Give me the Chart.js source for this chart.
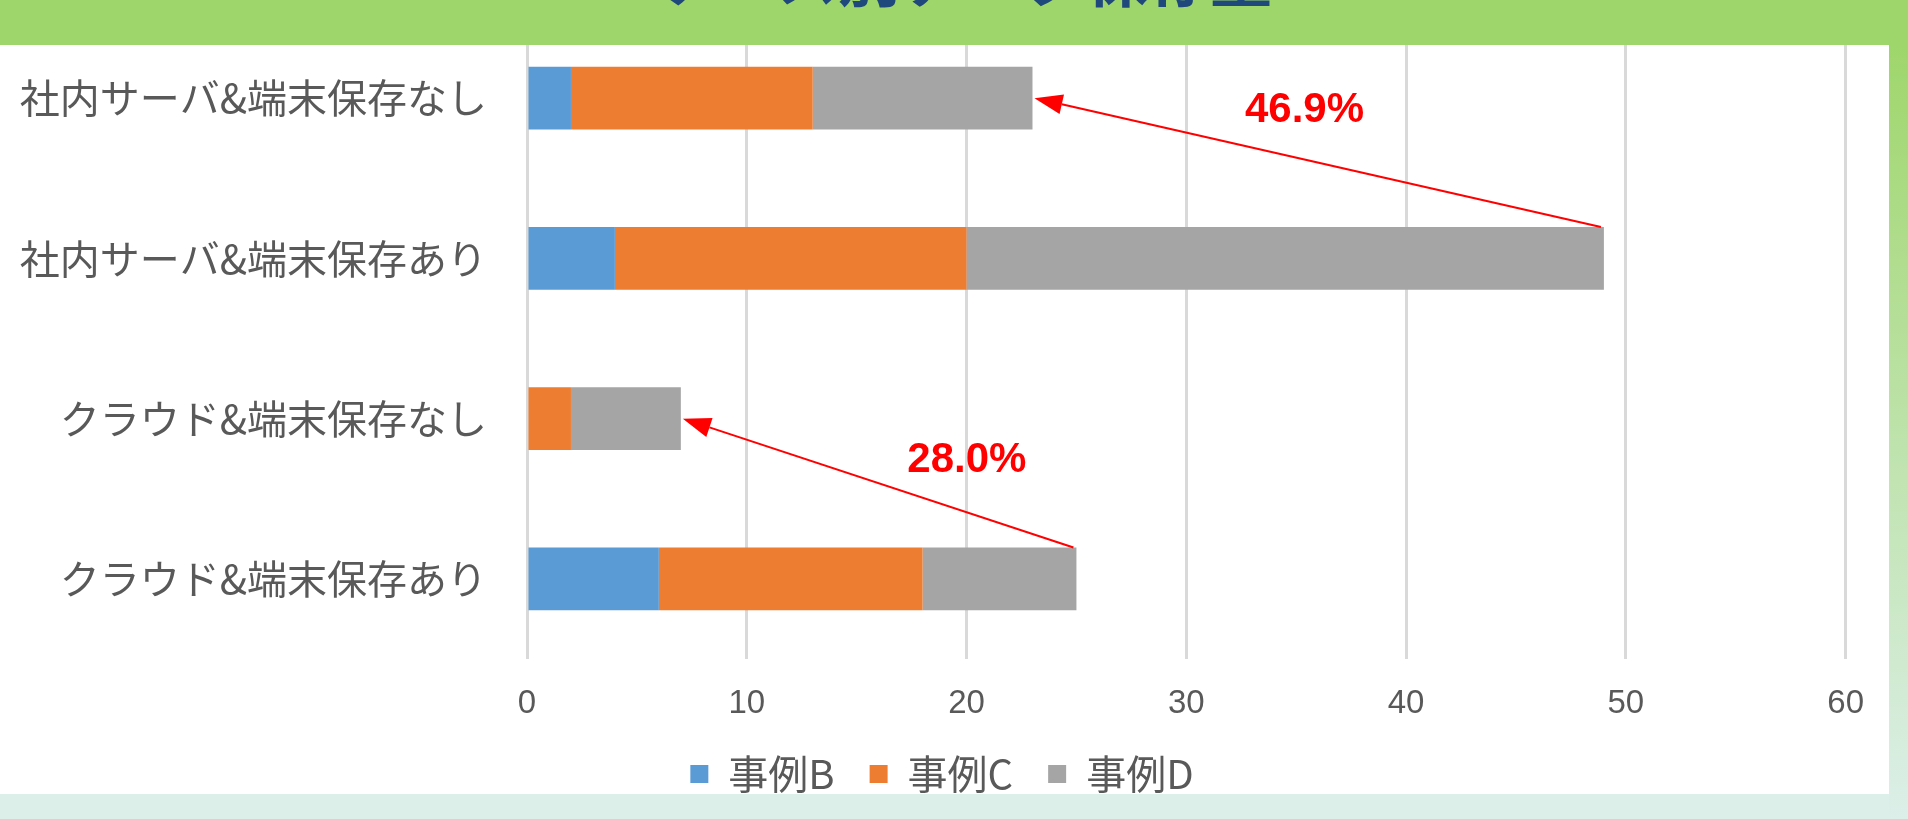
<!DOCTYPE html>
<html lang="ja">
<head>
<meta charset="utf-8">
<script src="https://cdn.jsdelivr.net/npm/chart.js@4"></script>
<style>
html, body { margin: 0; padding: 0; }
body { width: 1908px; height: 819px; position: relative; overflow: hidden; background: #dcefe9; }
#panel { position: absolute; left: 0; top: 0; width: 1889px; height: 819px; background: #fff; }
#header { position: absolute; left: 0; top: 0; width: 1908px; height: 45px; background: #9fd66b; overflow: hidden; z-index: 2; }
#title { position: absolute; left: 655px; top: -56px; font: bold 62px "Noto Sans CJK JP"; line-height: 62px; color: #1f497d; white-space: nowrap; }
#side { position: absolute; left: 1889px; top: 45px; width: 19px; height: 774px; background: linear-gradient(#9fd66b, #dcefe9); z-index: 2; }
#foot { position: absolute; left: 0; top: 794px; width: 1889px; height: 25px; background: #dcefe9; z-index: 2; }
</style>
</head>
<body>
<div id="panel"><canvas id="barChart"></canvas></div>
<div id="header"><div id="title">ケース別データ保存量</div></div>
<div id="side"></div>
<div id="foot"></div>
<script>
// data
const categories = [
  '社内サーバ&端末保存なし',
  '社内サーバ&端末保存あり',
  'クラウド&端末保存なし',
  'クラウド&端末保存あり'
];
const seriesNames = ['事例B', '事例C', '事例D'];
const caseB = [2, 4, 0, 6];
const caseC = [11, 16, 2, 12];
const caseD = [10, 29, 5, 7];
const xTicks = [0, 10, 20, 30, 40, 50, 60];
// arrows: from row (あり) -> to row (なし)
const arrowPairs = [[1, 0], [3, 2]];

const totals = categories.map((c, i) => caseB[i] + caseC[i] + caseD[i]);

Chart.defaults.font.family = '"Noto Sans CJK JP", sans-serif';
Chart.defaults.color = '#595959';

// red arrows + percentage labels
const labelOffsets = [[270, 12], [284, 42]];
const arrowPlugin = {
  id: 'arrows',
  afterLayout(chart) {
    // nudge the legend a little to the right, like the original
    chart.legend.left += 22;
  },
  afterDatasetsDraw(chart) {
    const ctx = chart.ctx;
    const x = chart.scales.x;
    const y = chart.scales.y;
    const bars = chart.getDatasetMeta(0).data;
    ctx.save();
    ctx.strokeStyle = '#ff0000';
    ctx.fillStyle = '#ff0000';
    ctx.lineWidth = 2;
    arrowPairs.forEach(function(pair, k) {
      const from = pair[0], to = pair[1];
      const half = bars[from].height / 2;
      const x1 = x.getPixelForValue(totals[from]) - 3;
      const y1 = y.getPixelForValue(from) - half;
      const x2 = x.getPixelForValue(totals[to]) + 2;
      const y2 = y.getPixelForValue(to);
      const ang = Math.atan2(y1 - y2, x1 - x2);
      const len = 28, w = 10;
      const bx = x2 + Math.cos(ang) * len, by = y2 + Math.sin(ang) * len;
      ctx.beginPath();
      ctx.moveTo(x1, y1);
      ctx.lineTo(bx, by);
      ctx.stroke();
      ctx.beginPath();
      ctx.moveTo(x2, y2);
      ctx.lineTo(bx - Math.sin(ang) * w, by + Math.cos(ang) * w);
      ctx.lineTo(bx + Math.sin(ang) * w, by - Math.cos(ang) * w);
      ctx.closePath();
      ctx.fill();
      const pct = (totals[to] / totals[from] * 100).toFixed(1) + '%';
      ctx.font = 'bold 42px "Liberation Sans"';
      ctx.textAlign = 'center';
      ctx.textBaseline = 'middle';
      ctx.fillText(pct, x2 + labelOffsets[k][0], y2 + labelOffsets[k][1]);
    });
    ctx.restore();
  }
};

const barData = {
  labels: categories,
  datasets: [
    { label: seriesNames[0], data: caseB, backgroundColor: '#5b9bd5' },
    { label: seriesNames[1], data: caseC, backgroundColor: '#ed7d31' },
    { label: seriesNames[2], data: caseD, backgroundColor: '#a5a5a5' }
  ].map(d => Object.assign(d, { barPercentage: 0.98, categoryPercentage: 0.4 }))
};

const barConfig = {
  type: 'bar',
  data: barData,
  options: {
    indexAxis: 'y',
    responsive: true,
    maintainAspectRatio: false,
    animation: false,
    layout: { padding: { top: 18, right: 27, bottom: 15, left: 0 } },
    scales: {
      x: {
        stacked: true,
        min: xTicks[0],
        max: xTicks[xTicks.length - 1],
        afterBuildTicks: s => { s.ticks = xTicks.map(v => ({ value: v })); },
        afterFit: s => { s.height = 60; },
        grid: { color: '#d9d9d9', lineWidth: 3, drawTicks: false },
        border: { display: false },
        ticks: { padding: 25, color: '#595959', font: { size: 33, family: '"Liberation Sans"' } }
      },
      y: {
        stacked: true,
        afterFit: s => { s.width = 527; s.paddingTop = 0; s.paddingBottom = 0; },
        grid: { display: false, drawTicks: false },
        border: { display: false },
        ticks: { padding: 40, color: '#595959', font: { size: 40 } }
      }
    },
    plugins: {
      tooltip: { enabled: false },
      legend: {
        position: 'bottom',
        labels: { boxWidth: 18, boxHeight: 18, padding: 35, color: '#595959', font: { size: 40 } }
      }
    }
  },
  plugins: [arrowPlugin]
};

var bar_area = document.getElementById('barChart');
var myBarChart = new Chart(bar_area, barConfig);
</script>
</body>
</html>
